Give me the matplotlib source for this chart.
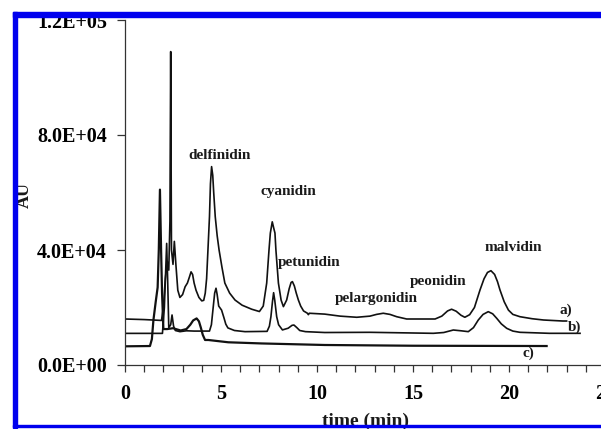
import matplotlib
matplotlib.use("Agg")
import matplotlib.pyplot as plt
from matplotlib.patches import Rectangle
from matplotlib.ticker import MultipleLocator

# chromatogram traces: (time in min, AU)
time_a = [0, 1.0, 1.9, 2.0, 2.1, 2.2, 2.28, 2.34, 2.38, 2.42, 2.5, 2.57, 2.65, 2.75,
          2.86, 3.0, 3.13, 3.25, 3.35, 3.44, 3.52, 3.6, 3.7, 3.85, 4.0, 4.1, 4.18,
          4.25, 4.32, 4.4, 4.45, 4.51, 4.57, 4.62, 4.7, 4.8, 4.9, 5.05, 5.2, 5.45,
          5.73, 6.1, 6.6, 7.0, 7.2, 7.38, 7.5, 7.57, 7.67, 7.75, 7.81, 7.86, 7.99,
          8.13, 8.25, 8.42, 8.55, 8.65, 8.72, 8.82, 8.92, 9.03, 9.15, 9.3, 9.5,
          9.55, 9.6, 10.4, 11.2, 12.07, 12.76, 13.1, 13.45, 13.8, 14.15, 14.67,
          16.15, 16.5, 16.8, 17.01, 17.25, 17.5, 17.7, 17.95, 18.2, 18.49, 18.7,
          18.88, 19.06, 19.25, 19.4, 19.53, 19.75, 19.97, 20.2, 20.57, 21.2, 21.8,
          22.8, 23.0]
au_a = [16000, 15800, 15500, 20000, 30000, 36000, 33000, 50000, 109000, 40000,
        35000, 43000, 35000, 26000, 23500, 24500, 27200, 28500, 30500, 32400,
        31500, 28500, 26000, 23500, 22300, 22500, 25000, 30000, 40000, 51600,
        63000, 69000, 66000, 60000, 51600, 45000, 40000, 34000, 28500, 25000,
        22600, 20800, 19400, 18600, 20500, 28500, 40000, 45900, 49800, 47500,
        45900, 40000, 28500, 22600, 20300, 22600, 26500, 28700, 29000, 27500,
        25000, 22600, 20500, 18800, 18000, 17500, 18000, 17700, 17000, 16600,
        17000, 17600, 18000, 17600, 16800, 16000, 16000, 17000, 18800, 19400,
        18700, 17300, 16600, 17500, 20000, 26100, 30000, 32200, 32800, 31500,
        29000, 26100, 22000, 19100, 17600, 16800, 16100, 15650, 15300, 15300]

time_b = [0, 1.0, 1.95, 2.05, 2.12, 2.17, 2.22, 2.28, 2.38, 2.45, 2.53, 2.62,
          2.86, 3.2, 3.6, 4.0, 4.4, 4.5, 4.6, 4.67, 4.74, 4.8, 4.88, 5.03, 5.15,
          5.25, 5.36, 5.7, 6.25, 7.4, 7.52, 7.6, 7.68, 7.74, 7.8, 7.9, 8.0, 8.2,
          8.5, 8.7, 8.8, 8.95, 9.1, 9.4, 10.4, 12.76, 16.06, 16.6, 17.1, 17.5,
          17.88, 18.15, 18.4, 18.65, 18.92, 19.15, 19.36, 19.6, 19.88, 20.2,
          20.57, 22.1, 23.7]
au_b = [11000, 11000, 11000, 20000, 33000, 42300, 30000, 13000, 14000, 17400,
        13500, 12000, 11600, 11900, 11800, 11800, 11800, 14000, 20500, 25000,
        26700, 24500, 20500, 19100, 16500, 14200, 12900, 12000, 11600, 11700,
        13500, 16800, 22000, 25150, 22500, 16800, 14000, 12200, 12800, 13800,
        13900, 13000, 12000, 11600, 11300, 11370, 11020, 11300, 12170, 11900,
        11600, 13000, 15650, 17600, 18550, 17800, 16240, 14300, 12760, 11800,
        11370, 11020, 11020]

time_c = [0, 1.3, 1.4, 1.48, 1.6, 1.7, 1.76, 1.82, 1.88, 1.93, 2.0, 2.2, 2.5,
          2.9, 3.2, 3.4, 3.55, 3.73, 3.85, 3.95, 4.05, 4.17, 4.34, 5.38, 7.1,
          10.4, 15.0, 21.96]
au_c = [6500, 6600, 9000, 15600, 22000, 27000, 40000, 61000, 40000, 25000,
        12500, 12500, 12800, 12000, 12500, 14000, 15500, 16200, 15200, 13000,
        10500, 8700, 8700, 7900, 7500, 6960, 6700, 6600]

trace_names = ["a)", "b)", "c)"]
trace_label_pos = [(22.97, 19100), (23.39, 13200), (21.0, 4200)]

compounds = ["delfinidin", "cyanidin", "petunidin", "pelargonidin", "peonidin", "malvidin"]
compound_pos = [(4.95, 72700), (8.5, 60200), (9.58, 35500), (13.1, 23100),
                (16.3, 29200), (20.2, 40700)]

y_ticks = [0, 40000, 80000, 120000]
y_tick_labels = ["0.0E+00", "4.0E+04", "8.0E+04", "1.2E+05"]
x_ticks = [0, 5, 10, 15, 20, 25]

plt.rcParams["font.family"] = "Liberation Serif"
plt.rcParams["font.weight"] = "bold"

fig = plt.figure(figsize=(6.01, 4.29), dpi=100)
ax = fig.add_axes([125 / 601, 64 / 429, 480 / 601, 345 / 429])

line_kw = dict(color="#111111", lw=1.2)
ax.plot(time_a, au_a, **line_kw)
ax.plot(time_b, au_b, **line_kw)
ax.plot(time_c, au_c, color="#111111", lw=1.6)

for name, (tx, ty) in zip(trace_names, trace_label_pos):
    ax.text(tx, ty, name, ha="center", va="center", fontsize=11, fontweight="bold", color="#1a1a1a")

for name, (tx, ty) in zip(compounds, compound_pos):
    ax.text(tx, ty, name, ha="center", va="center", fontsize=11, fontweight="bold", color="#1a1a1a")

ax.set_xlim(0, 25)
ax.set_ylim(0, 120000)
ax.set_xticks(x_ticks)
ax.set_xticklabels([str(t) for t in x_ticks])
ax.xaxis.set_minor_locator(MultipleLocator(1))
ax.set_yticks(y_ticks)
ax.set_yticklabels(y_tick_labels)

ax.spines["top"].set_visible(False)
ax.spines["right"].set_visible(False)
for s in ["left", "bottom"]:
    ax.spines[s].set_color("#333333")
    ax.spines[s].set_linewidth(0.9)

ax.tick_params(axis="x", which="both", direction="out", length=5, width=0.9,
               color="#333333", labelsize=14.5, pad=9)
ax.tick_params(axis="y", which="major", direction="out", length=6, width=0.9,
               color="#333333", labelsize=14.5, pad=7)

fig.text(24 / 601, (429 - 195) / 429, "AU", rotation=90, ha="center", va="center",
         fontsize=13, fontweight="bold", color="#1a1a1a")
fig.text(365 / 601, (429 - 421) / 429, "time (min)", ha="center", va="center",
         fontsize=14, fontweight="bold", color="#1a1a1a")

# blue frame around the figure
blue = "#0000ee"
fig.add_artist(Rectangle((12.5 / 601, 1 / 429), 4.5 / 601, 416 / 429,
                         transform=fig.transFigure, color=blue, zorder=10))
fig.add_artist(Rectangle((12.5 / 601, (429 - 17) / 429), 1.0, 5 / 429,
                         transform=fig.transFigure, color=blue, zorder=10))
fig.add_artist(Rectangle((12.5 / 601, (429 - 427) / 429), 1.0, 2 / 429,
                         transform=fig.transFigure, color=blue, zorder=10))

plt.savefig("out.png", dpi=100)
plt.close()
